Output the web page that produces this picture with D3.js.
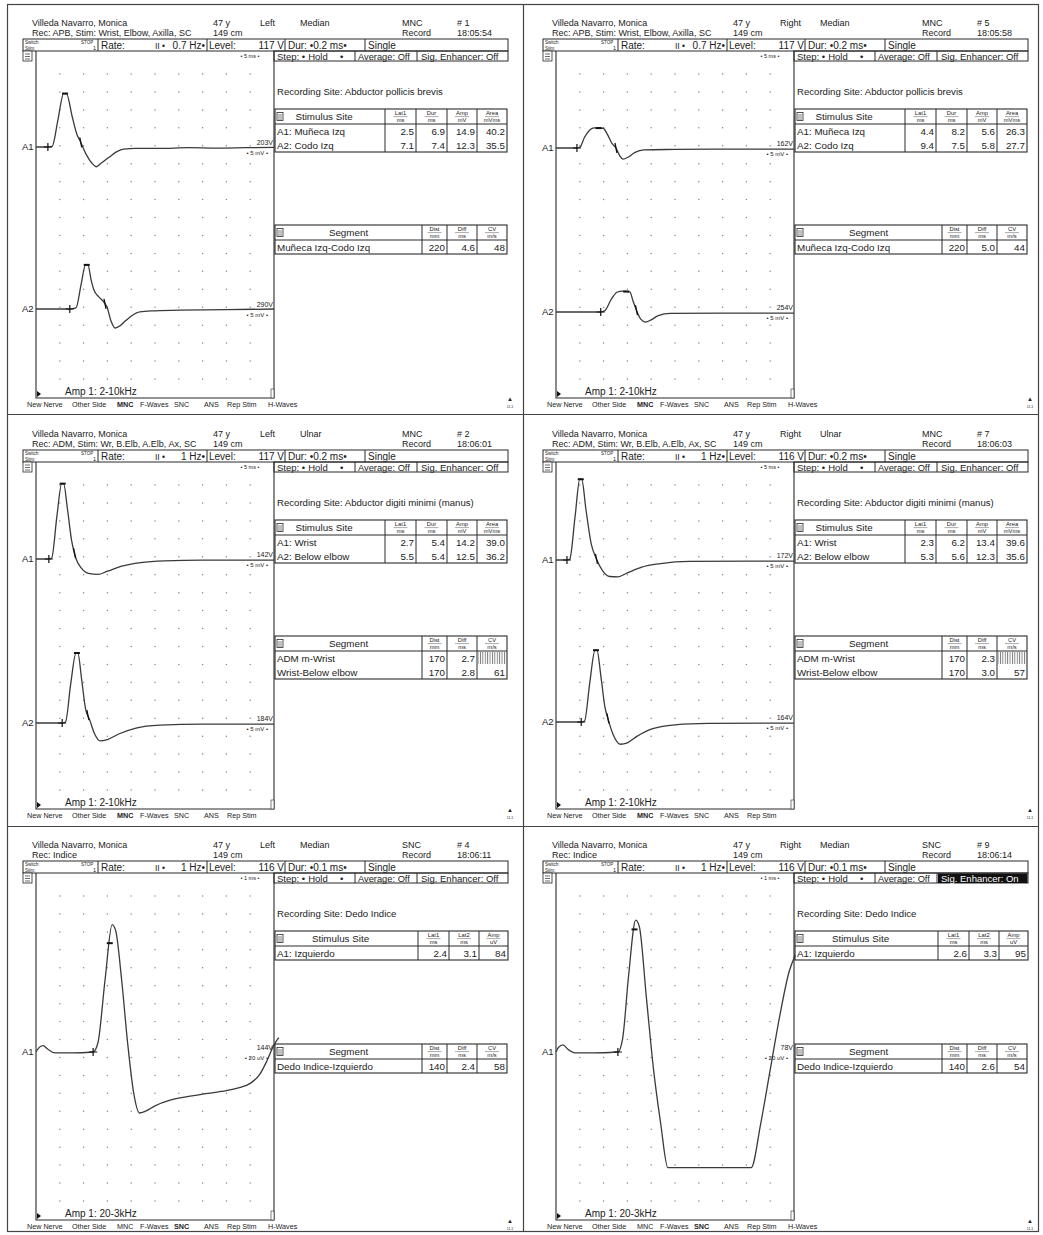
<!DOCTYPE html>
<html>
<head>
<meta charset="utf-8">
<script src="https://cdn.jsdelivr.net/npm/d3@7"></script>
<style>
body { margin: 0; background: #fff; }
text { font-family: "Liberation Sans", Arial, sans-serif; fill: #222; }
</style>
</head>
<body>
<script>
// ---- chart values ----
const PATIENT = "Villeda Navarro, Monica";
const AGE = "47 y";
const HEIGHT_CM = "149 cm";
const SIDE = ["Left", "Right", "Left", "Right", "Left", "Right"];
const NERVE = ["Median", "Median", "Ulnar", "Ulnar", "Median", "Median"];
const STUDY = ["MNC", "MNC", "MNC", "MNC", "SNC", "SNC"];
const RECORD_NO = ["# 1", "# 5", "# 2", "# 7", "# 4", "# 9"];
const TIMES = ["18:05:54", "18:05:58", "18:06:01", "18:06:03", "18:06:11", "18:06:14"];
const REC_LINE = [
    "Rec: APB, Stim: Wrist, Elbow, Axilla, SC",
    "Rec: APB, Stim: Wrist, Elbow, Axilla, SC",
    "Rec: ADM, Stim: Wr, B.Elb, A.Elb, Ax, SC",
    "Rec: ADM, Stim: Wr, B.Elb, A.Elb, Ax, SC",
    "Rec: Indice",
    "Rec: Indice"
];
const RATE = ["0.7 Hz", "0.7 Hz", "1 Hz", "1 Hz", "1 Hz", "1 Hz"];
const LEVEL = ["117 V", "117 V", "117 V", "116 V", "116 V", "116 V"];
const DUR = ["0.2 ms", "0.2 ms", "0.2 ms", "0.2 ms", "0.1 ms", "0.1 ms"];
const SWEEP = [5, 5, 5, 5, 1, 1];          // ms per division
const SENS = [5, 5, 5, 5, 20, 20];         // amplitude per division
const SENS_UNIT = ["mV", "mV", "mV", "mV", "uV", "uV"];
const ENHANCER = ["Off", "Off", "Off", "Off", "Off", "On"];
const REC_SITE = [
    "Abductor pollicis brevis", "Abductor pollicis brevis",
    "Abductor digiti minimi (manus)", "Abductor digiti minimi (manus)",
    "Dedo Indice", "Dedo Indice"
];
const FILTER = ["2-10kHz", "2-10kHz", "2-10kHz", "2-10kHz", "20-3kHz", "20-3kHz"];
const MENU_ITEMS = ["New Nerve", "Other Side", "MNC", "F-Waves", "SNC", "ANS", "Rep Stim", "H-Waves"];
const HAS_HWAVES = [true, true, false, false, true, true];

const STIM_COLS_MNC = [["Lat1", "ms"], ["Dur", "ms"], ["Amp", "mV"], ["Area", "mVms"]];
const STIM_COLS_SNC = [["Lat1", "ms"], ["Lat2", "ms"], ["Amp", "uV"]];
const SEG_COLS = [["Dist", "mm"], ["Diff", "ms"], ["CV", "m/s"]];

const STIM_SITES = [
    ["A1: Muñeca Izq", "A2: Codo Izq"],
    ["A1: Muñeca Izq", "A2: Codo Izq"],
    ["A1: Wrist", "A2: Below elbow"],
    ["A1: Wrist", "A2: Below elbow"],
    ["A1: Izquierdo"],
    ["A1: Izquierdo"]
];
const STIM_VALUES = [
    [["2.5", "6.9", "14.9", "40.2"], ["7.1", "7.4", "12.3", "35.5"]],
    [["4.4", "8.2", "5.6", "26.3"], ["9.4", "7.5", "5.8", "27.7"]],
    [["2.7", "5.4", "14.2", "39.0"], ["5.5", "5.4", "12.5", "36.2"]],
    [["2.3", "6.2", "13.4", "39.6"], ["5.3", "5.6", "12.3", "35.6"]],
    [["2.4", "3.1", "84"]],
    [["2.6", "3.3", "95"]]
];
const SEG_NAMES = [
    ["Muñeca Izq-Codo Izq"],
    ["Muñeca Izq-Codo Izq"],
    ["ADM m-Wrist", "Wrist-Below elbow"],
    ["ADM m-Wrist", "Wrist-Below elbow"],
    ["Dedo Indice-Izquierdo"],
    ["Dedo Indice-Izquierdo"]
];
const SEG_VALUES = [
    [["220", "4.6", "48"]],
    [["220", "5.0", "44"]],
    [["170", "2.7", null], ["170", "2.8", "61"]],
    [["170", "2.3", null], ["170", "3.0", "57"]],
    [["140", "2.4", "58"]],
    [["140", "2.6", "54"]]
];
const GAIN_LABEL = [["203V", "290V"], ["162V", "254V"], ["142V", "184V"], ["172V", "164V"], ["144V"], ["78V"]];

// waveforms: [time ms, amplitude]
const WAVE_1_A1 = [[0,0],[2.5,0],[3.4,0.2],[4.6,7.5],[5.8,14.9],[6.4,14.9],[7.6,8.5],[8.6,3.5],[9.3,1.6],[10.6,-2.2],[11.8,-4.6],[12.7,-5.5],[13.6,-4.6],[15.5,-2.7],[17,-1.3],[18.4,-0.6],[21,-0.4],[26,-0.4],[32,-0.2],[38,-0.3],[44,-0.2],[50,-0.1]];
const WAVE_1_A2 = [[0,0],[7.1,0],[8.4,0.3],[9.5,7],[10.4,12.3],[10.9,12.3],[11.6,8],[12.2,5.2],[13.2,3.4],[14.2,2],[14.9,0.6],[15.8,-3.5],[16.6,-5.3],[17.5,-4.8],[18.8,-3.3],[20.2,-1.8],[21.8,-0.8],[25,-0.5],[30,-0.3],[40,-0.2],[50,0]];
const WAVE_5_A1 = [[0,0],[4.4,0],[5.0,0.2],[6.0,3],[7.1,5],[8.0,5.6],[9.9,5.5],[10.8,3.8],[11.8,1.2],[12.6,0],[13.4,-2.2],[14.1,-3.1],[15.2,-2.5],[16.6,-1.2],[18.5,-0.5],[25,-0.4],[35,-0.3],[50,-0.3]];
const WAVE_5_A2 = [[0,0],[9.4,0],[10.2,0.3],[11.6,3.5],[12.8,5.5],[14,5.8],[15.5,5.6],[16.2,3],[16.9,0.5],[17.8,-2],[18.8,-2.8],[20,-2.2],[21.5,-1],[24,-0.4],[35,-0.3],[50,-0.3]];
const WAVE_2_A1 = [[0,0],[2.7,0],[3.3,0.3],[4.4,12],[5.4,21],[5.8,21],[6.6,14],[7.5,5],[8.3,0.5],[9.5,-2.5],[11,-4],[13,-4.3],[15,-3.4],[18,-2],[22,-1],[27,-0.5],[35,-0.3],[50,-0.3]];
const WAVE_2_A2 = [[0,0],[5.5,0],[6.2,0.3],[7.3,11],[8.4,19.5],[8.8,19.5],[9.6,12],[10.4,4],[11.3,0.8],[12.3,-3],[13.5,-5],[15,-4.6],[17.5,-3],[21,-1.4],[26,-0.6],[35,-0.3],[50,-0.3]];
const WAVE_7_A1 = [[0,0],[2.3,0],[2.9,0.3],[4.0,12],[5.0,22.5],[5.4,22.5],[6.3,14],[7.4,4.5],[8.5,0.3],[9.8,-3],[11.3,-4.6],[13,-4.7],[15,-3.6],[18,-2],[22,-1],[28,-0.4],[50,-0.3]];
const WAVE_7_A2 = [[0,0],[5.3,0],[6.0,0.3],[7.1,11],[8.2,20],[8.6,20],[9.5,12],[10.3,4],[10.9,1],[12,-3.5],[13.5,-6.2],[15,-5.8],[17,-4],[20,-2],[25,-0.8],[32,-0.4],[50,-0.3]];
const WAVE_4_A1 = [[0,0],[0.1,4],[0.3,7],[0.5,3],[0.8,-1],[1.5,-1],[2.4,0],[2.6,10],[2.9,80],[3.2,142],[3.35,135],[3.6,80],[3.85,10],[4.1,-45],[4.35,-68],[4.6,-66],[5.0,-60],[5.6,-54],[6.3,-50],[7.0,-47],[7.8,-44],[8.5,-40],[9.0,-35],[9.4,-25],[9.7,-10],[10,8],[10.2,16]];
const WAVE_9_A1 = [[0,0],[0.1,5],[0.3,8],[0.5,3],[0.8,-1],[1.5,-1],[2.6,0],[2.8,15],[3.05,85],[3.35,147],[3.5,140],[3.8,60],[4.1,-20],[4.4,-80],[4.7,-129],[8.2,-129],[8.6,-80],[9.0,-20],[9.4,40],[9.8,90],[10.05,108]];
const WAVES = [[WAVE_1_A1, WAVE_1_A2], [WAVE_5_A1, WAVE_5_A2], [WAVE_2_A1, WAVE_2_A2], [WAVE_7_A1, WAVE_7_A2], [WAVE_4_A1], [WAVE_9_A1]];

// ---- layout ----
const WIDTH = 1043, HEIGHT = 1235;
const PANEL_X = [0, 520];
const PANEL_Y = [0, 411, 822];
const PLOT = { left: 36, right: 274, top: 51, bottom: 398 };
const DIV_Y = 17.94;
const CHANNEL_BASE = [[147, 309], [148, 312], [148, 312], [149, 311], [230], [230]];
const STIM_EDGES_MNC = [275, 385, 416, 447, 477, 507];
const STIM_EDGES_SNC = [275, 418, 449, 479, 508];
const SEG_EDGES = [275, 422, 447, 477, 507];
const SEG_TOP = [225, 225, 225, 225, 222, 222];
const MENU_X = [27, 72, 117, 140, 174, 204, 227, 268];
const INK = "#2a2a2a";

const svg = d3.select("body").append("svg")
    .attr("width", WIDTH)
    .attr("height", HEIGHT)
    .attr("viewBox", [0, 0, WIDTH, HEIGHT]);

svg.append("rect").attr("width", WIDTH).attr("height", HEIGHT).attr("fill", "#fff");

// hatch for missing CV cell
const defs = svg.append("defs");
defs.append("pattern")
    .attr("id", "hatch")
    .attr("width", 2.4).attr("height", 4)
    .attr("patternUnits", "userSpaceOnUse")
    .append("rect").attr("width", 0.9).attr("height", 4).attr("fill", "#777");

function txt(g, x, y, s, size, anchor) {
    return g.append("text")
        .attr("x", x).attr("y", y)
        .attr("font-size", size)
        .attr("text-anchor", anchor || "start")
        .text(s);
}

function box(g, x0, y0, x1, y1, w) {
    return g.append("rect")
        .attr("x", x0).attr("y", y0)
        .attr("width", x1 - x0).attr("height", y1 - y0)
        .attr("fill", "none").attr("stroke", INK).attr("stroke-width", w || 1);
}

function vline(g, x, y0, y1) {
    g.append("line").attr("x1", x).attr("x2", x).attr("y1", y0).attr("y2", y1)
        .attr("stroke", INK).attr("stroke-width", 1);
}

function interp(wave, t) {
    for (let k = 1; k < wave.length; k++) {
        if (wave[k][0] >= t) {
            const a = wave[k - 1], b = wave[k];
            const f = (t - a[0]) / (b[0] - a[0] || 1);
            return a[1] + f * (b[1] - a[1]);
        }
    }
    return wave[wave.length - 1][1];
}

function unitHeader(g, x0, x1, y0, label) {
    const cx = (x0 + x1) / 2;
    txt(g, cx, y0 + 6.3, label[0], 5.8, "middle");
    g.append("line").attr("x1", cx - 7).attr("x2", cx + 7).attr("y1", y0 + 7.6).attr("y2", y0 + 7.6)
        .attr("stroke", "#555").attr("stroke-width", 0.5);
    txt(g, cx, y0 + 12.8, label[1], 5.8, "middle");
}

function tableIcon(g, x, y) {
    g.append("rect").attr("x", x).attr("y", y).attr("width", 6).attr("height", 8)
        .attr("fill", "#fff").attr("stroke", INK).attr("stroke-width", 0.8);
    [2.5, 4.5, 6.5].forEach(d => g.append("line")
        .attr("x1", x + 1).attr("x2", x + 5).attr("y1", y + d).attr("y2", y + d)
        .attr("stroke", INK).attr("stroke-width", 0.6));
}

function drawPanel(i) {
    const ox = PANEL_X[i % 2], oy = PANEL_Y[Math.floor(i / 2)];
    const g = svg.append("g").attr("transform", `translate(${ox},${oy})`);
    const snc = STUDY[i] === "SNC";

    // Header
    const hs = 9;
    txt(g, 32, 26, PATIENT, hs);
    txt(g, 213, 26, AGE, hs);
    txt(g, 260, 26, SIDE[i], hs);
    txt(g, 300, 26, NERVE[i], hs);
    txt(g, 402, 26, STUDY[i], hs);
    txt(g, 457, 26, RECORD_NO[i], hs);
    txt(g, 32, 35.5, REC_LINE[i], hs);
    txt(g, 213, 36, HEIGHT_CM, hs);
    txt(g, 402, 36, "Record", hs);
    txt(g, 457, 36, TIMES[i], hs);

    // Control bar
    box(g, 23, 39, 508, 51);
    [98, 207, 285, 365].forEach(x => vline(g, x, 39, 51));
    txt(g, 25, 43.5, "Switch:", 4.5);
    txt(g, 25, 50, "Stim:", 4.5);
    txt(g, 81, 43.5, "STOP", 4.5);
    txt(g, 93, 50, "1", 5.5);
    txt(g, 101, 49, "Rate:", 10);
    txt(g, 155, 49, "II •", 8.5);
    txt(g, 205, 49, RATE[i] + "•", 10, "end");
    txt(g, 209, 49, "Level:", 10);
    txt(g, 284, 49, LEVEL[i], 10, "end");
    txt(g, 288, 49, "Dur: •" + DUR[i] + "•", 10);
    txt(g, 368, 49, "Single", 10);

    // Second row
    g.append("rect").attr("x", 23).attr("y", 51).attr("width", 9).attr("height", 10)
        .attr("fill", "#fff").attr("stroke", INK).attr("stroke-width", 0.8);
    [54, 56.5, 59].forEach(y => g.append("line").attr("x1", 25).attr("x2", 30).attr("y1", y).attr("y2", y)
        .attr("stroke", INK).attr("stroke-width", 0.7));
    box(g, PLOT.right, 51, 508, 61);
    vline(g, 355, 51, 61);
    vline(g, 417, 51, 61);
    txt(g, 277, 59.8, "Step: •", 9.5);
    txt(g, 318, 59.8, "Hold", 9.5, "middle");
    txt(g, 340, 59.8, "•", 9.5);
    txt(g, 358, 59.8, "Average: Off", 9.3);
    if (ENHANCER[i] === "On") {
        g.append("rect").attr("x", 418).attr("y", 51.5).attr("width", 89.5).attr("height", 9.5).attr("fill", "#111");
        txt(g, 421, 59.8, "Sig. Enhancer: On", 9.5).style("fill", "#fff");
    } else {
        txt(g, 421, 59.8, "Sig. Enhancer: " + ENHANCER[i], 9.5);
    }
    txt(g, 250, 57.5, "•   " + SWEEP[i] + " ms   •", 5.5, "middle");

    // Plot frame
    g.append("path")
        .attr("d", `M${PLOT.left},${PLOT.top} V${PLOT.bottom} H${PLOT.right} V${PLOT.top}`)
        .attr("fill", "none").attr("stroke", INK).attr("stroke-width", 1.1);

    const x = d3.scaleLinear().domain([0, 10 * SWEEP[i]]).range([PLOT.left, PLOT.right]);

    // Dot grid
    const cols = d3.range(1, 10).map(k => x(k * SWEEP[i]));
    const rows = d3.range(18).map(j => 74 + j * DIV_Y);
    cols.forEach(cx => rows.forEach(cy => {
        g.append("circle").attr("cx", cx).attr("cy", cy).attr("r", 0.75).attr("fill", "#8a8a8a");
    }));

    // Waveforms
    WAVES[i].forEach((wave, c) => {
        const base = CHANNEL_BASE[i][c];
        const y = d3.scaleLinear().domain([0, SENS[i]]).range([base, base - DIV_Y]);
        const line = d3.line().x(d => x(d[0])).y(d => y(d[1])).curve(d3.curveMonotoneX);
        g.append("path").datum(wave)
            .attr("d", line)
            .attr("fill", "none").attr("stroke", "#3a3a3a").attr("stroke-width", 1.3);

        txt(g, 22, base + 3, "A" + (c + 1), 9.5);

        // markers: onset, peak, end of duration
        const vals = STIM_VALUES[i][c].map(Number);
        const lat1 = vals[0];
        const peak = wave.reduce((m, d) => (d[1] > m[1] ? d : m), wave[0]);
        const peakT = snc ? vals[1] : (peak[0] + wave[wave.indexOf(peak) + 1][0]) / 2;
        const endT = snc ? null : lat1 + vals[1];
        const px = x(lat1), py = y(interp(wave, lat1));
        g.append("path").attr("d", `M${px - 4},${py} H${px + 4} M${px},${py - 4} V${py + 4}`)
            .attr("stroke", "#111").attr("stroke-width", 1.2);
        const kx = x(peakT), ky = y(interp(wave, peakT));
        g.append("path").attr("d", `M${kx - 3},${ky} H${kx + 3}`)
            .attr("stroke", "#111").attr("stroke-width", 2);
        if (endT !== null) {
            const ex = x(endT), ey = y(interp(wave, endT));
            g.append("path").attr("d", `M${ex - 1},${ey - 5} L${ex + 1},${ey + 5}`)
                .attr("stroke", "#111").attr("stroke-width", 1.3);
        }

        txt(g, 273, base - 2, GAIN_LABEL[i][c], 7, "end");
        txt(g, 268, base + 7.5, "•  " + SENS[i] + " " + SENS_UNIT[i] + "  •", 6, "end");
    });

    // Recording site
    txt(g, 277, 95, "Recording Site: " + REC_SITE[i], 9.6);

    // Stimulus table
    const se = snc ? STIM_EDGES_SNC : STIM_EDGES_MNC;
    const scols = snc ? STIM_COLS_SNC : STIM_COLS_MNC;
    const sTop = 109, hH = 15, rH = 14;
    const sRows = STIM_SITES[i].length;
    const sBottom = sTop + hH + sRows * rH;
    box(g, se[0], sTop, se[se.length - 1], sBottom, 1.1);
    se.slice(1, -1).forEach(e => vline(g, e, sTop, sBottom));
    g.append("line").attr("x1", se[0]).attr("x2", se[se.length - 1]).attr("y1", sTop + hH).attr("y2", sTop + hH)
        .attr("stroke", INK);
    tableIcon(g, se[0] + 2, sTop + 3.5);
    txt(g, (se[0] + se[1]) / 2 - 6, sTop + 11, "Stimulus Site", 9.8, "middle");
    scols.forEach((cl, k) => unitHeader(g, se[k + 1], se[k + 2], sTop, cl));
    STIM_SITES[i].forEach((site, r) => {
        const ry = sTop + hH + r * rH + 11;
        txt(g, se[0] + 2, ry, site, 9.8);
        STIM_VALUES[i][r].forEach((v, k) => txt(g, se[k + 2] - 2, ry, v, 9.8, "end"));
    });

    // Segment table
    const tTop = SEG_TOP[i];
    const tRows = SEG_NAMES[i].length;
    const tBottom = tTop + hH + tRows * rH;
    const ee = SEG_EDGES;
    box(g, ee[0], tTop, ee[ee.length - 1], tBottom, 1.1);
    ee.slice(1, -1).forEach(e => vline(g, e, tTop, tBottom));
    g.append("line").attr("x1", ee[0]).attr("x2", ee[ee.length - 1]).attr("y1", tTop + hH).attr("y2", tTop + hH)
        .attr("stroke", INK);
    tableIcon(g, ee[0] + 2, tTop + 3.5);
    txt(g, (ee[0] + ee[1]) / 2, tTop + 11, "Segment", 9.8, "middle");
    SEG_COLS.forEach((cl, k) => unitHeader(g, ee[k + 1], ee[k + 2], tTop, cl));
    SEG_NAMES[i].forEach((name, r) => {
        const ry = tTop + hH + r * rH + 11;
        txt(g, ee[0] + 2, ry, name, 9.8);
        SEG_VALUES[i][r].forEach((v, k) => {
            if (v === null) {
                g.append("rect").attr("x", ee[k + 1] + 1).attr("y", tTop + hH + r * rH + 1)
                    .attr("width", ee[k + 2] - ee[k + 1] - 2).attr("height", rH - 2)
                    .attr("fill", "url(#hatch)");
            } else {
                txt(g, ee[k + 2] - 2, ry, v, 9.8, "end");
            }
        });
    });

    // Bottom of plot
    g.append("path").attr("d", `M${PLOT.left + 1},${PLOT.bottom - 7} L${PLOT.left + 5},${PLOT.bottom - 4} L${PLOT.left + 1},${PLOT.bottom - 1}Z`)
        .attr("fill", "#111");
    g.append("rect").attr("x", PLOT.right - 3).attr("y", PLOT.bottom - 9).attr("width", 3).attr("height", 9)
        .attr("fill", "#fff").attr("stroke", INK).attr("stroke-width", 0.6);
    txt(g, 65, 395, "Amp 1: " + FILTER[i], 10);

    // Menu
    MENU_ITEMS.forEach((m, k) => {
        if (m === "H-Waves" && !HAS_HWAVES[i]) return;
        txt(g, MENU_X[k], 406.5, m, 7.2).attr("font-weight", m === STUDY[i] ? "bold" : "normal");
    });
    txt(g, 510, 401, "▲", 6, "middle");
    txt(g, 510, 407.5, "11.1", 3.5, "middle");
}

d3.range(6).forEach(drawPanel);

// Page frame and dividers
svg.append("rect").attr("x", 7.5).attr("y", 4.5).attr("width", 1031).attr("height", 1227)
    .attr("fill", "none").attr("stroke", "#444").attr("stroke-width", 1.2);
svg.append("line").attr("x1", 523.5).attr("x2", 523.5).attr("y1", 4.5).attr("y2", 1231.5)
    .attr("stroke", "#444").attr("stroke-width", 1.2);
[414.5, 826.5].forEach(yy => svg.append("line").attr("x1", 7.5).attr("x2", 1038.5).attr("y1", yy).attr("y2", yy)
    .attr("stroke", "#444").attr("stroke-width", 1.2));
</script>
</body>
</html>
